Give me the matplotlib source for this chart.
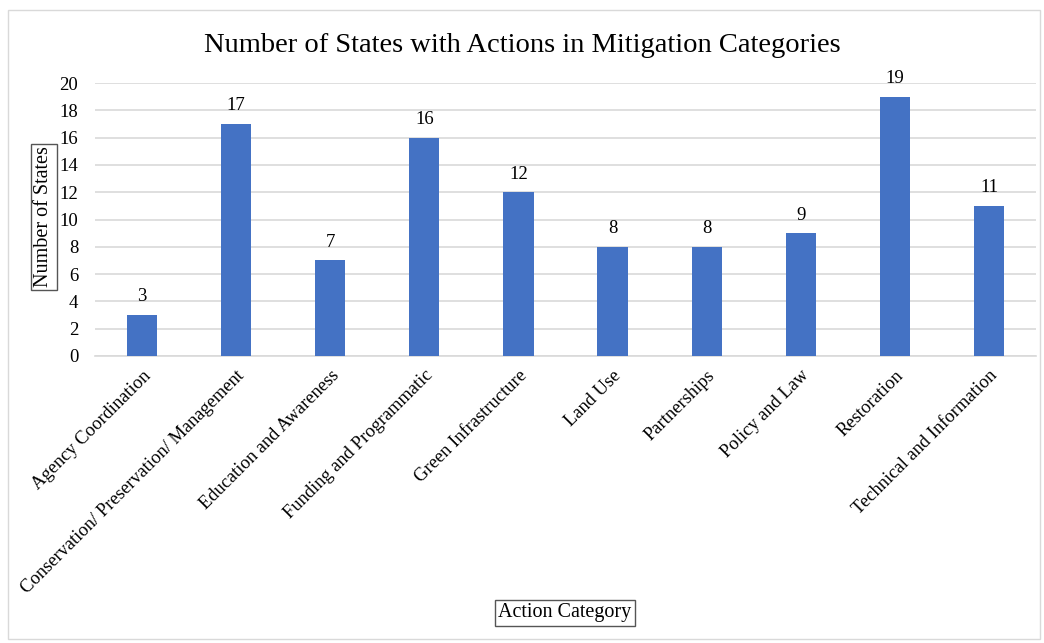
import matplotlib
matplotlib.use("Agg")
import matplotlib.pyplot as plt
from matplotlib.patches import Rectangle

categories = ["Agency Coordination", "Conservation/ Preservation/ Management",
              "Education and Awareness", "Funding and Programmatic",
              "Green Infrastructure", "Land Use", "Partnerships",
              "Policy and Law", "Restoration", "Technical and Information"]
values = [3, 17, 7, 16, 12, 8, 8, 9, 19, 11]
yticks = [0, 2, 4, 6, 8, 10, 12, 14, 16, 18, 20]

plt.rcParams['font.family'] = ['Liberation Serif', 'DejaVu Serif']

fig = plt.figure(figsize=(10.44, 6.43), dpi=100)
ax = fig.add_axes([95/1044, 1-356/643, (1036-95)/1044, (356-83)/643])

x = list(range(len(categories)))
bars = ax.bar(x, values, width=0.32, color="#4472C4", zorder=3)
for xi, v in zip(x, values):
    ax.text(xi, v + 0.7, str(v), ha="center", va="bottom", fontsize=13.5)

ax.set_xlim(-0.5, len(categories) - 0.5)
ax.set_ylim(0, 20)
ax.set_yticks(yticks)
ax.yaxis.grid(True, color="#d9d9d9", linewidth=1.2, zorder=0)
ax.set_axisbelow(True)
for s in ["top", "right", "left"]:
    ax.spines[s].set_visible(False)
ax.spines["bottom"].set_color("#d9d9d9")
ax.spines["bottom"].set_linewidth(1.2)
ax.tick_params(axis="both", length=0, labelsize=13.5)
ax.tick_params(axis="y", pad=12)
ax.set_xticks(x)
ax.set_xticklabels(categories, rotation=45, ha="right", rotation_mode="anchor", fontsize=13.3)
ax.tick_params(axis="x", pad=8)

fig.text(0.5, 1 - 45/643, "Number of States with Actions in Mitigation Categories",
         ha="center", va="center", fontsize=20.5)

bbox = dict(boxstyle="square,pad=0.15", facecolor="white", edgecolor="#555555", linewidth=1)
fig.text(44/1044, 1 - 217/643, "Number of States", rotation=90, ha="center", va="center",
         fontsize=14.5, bbox=bbox)
fig.text(565/1044, 1 - 613/643, "Action Category", ha="center", va="center",
         fontsize=14.5, bbox=bbox)

fig.patches.append(Rectangle((8/1044, 4/643), 1 - 12/1044, 1 - 14/643,
                             transform=fig.transFigure, fill=False,
                             edgecolor="#d9d9d9", linewidth=1))

fig.savefig("out.png", dpi=100)
